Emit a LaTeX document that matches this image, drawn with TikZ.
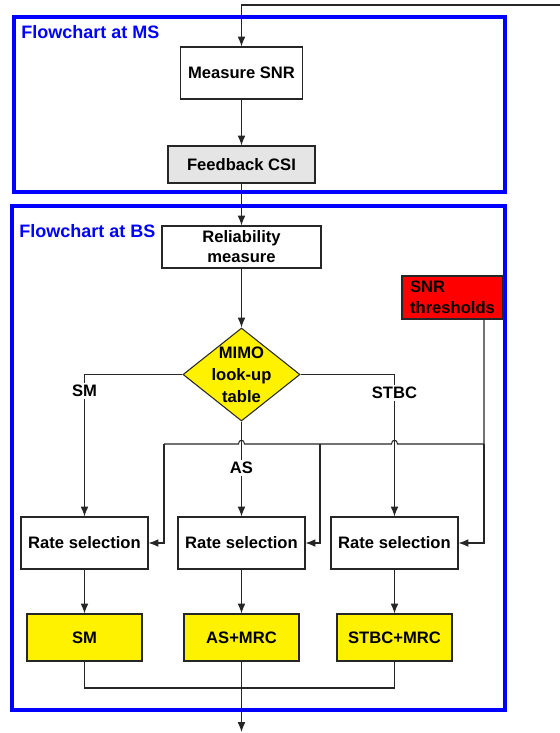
\documentclass[tikz,border=0pt]{standalone}
\usepackage{fontspec}
\setmainfont{Liberation Sans}
\usetikzlibrary{shapes.geometric,arrows.meta}
\tikzset{
  frame/.style={draw=blue,line width=2.5pt},
  title/.style={text=blue,font=\fontsize{12.8}{15}\selectfont\bfseries,inner sep=0pt},
  proc/.style={draw=black!85,line width=0.75pt,fill=white,font=\fontsize{11.8}{14.5}\selectfont\bfseries,
    align=center,inner sep=1pt,minimum width=3.175cm,minimum height=1.3cm},
  result/.style={proc,fill=yellow,minimum width=2.875cm,minimum height=1.175cm},
  decide/.style={diamond,draw=black!85,line width=0.75pt,fill=yellow,minimum width=2.925cm,minimum height=2.325cm,inner sep=0pt},
  lbl/.style={font=\fontsize{11.8}{14.5}\selectfont\bfseries,fill=white,inner sep=1.5pt},
  wire/.style={draw=black!85,line width=0.75pt},
  arr/.style={wire,-{Latex[length=7pt,width=5.5pt]}}
}
\begin{document}
\begin{tikzpicture}[x=0.025cm,y=-0.025cm]
\useasboundingbox (0,0) rectangle (560,733);
% MS side
\draw[frame] (14,17) rectangle (505,192);
\node[title,anchor=base west] (mstitle) at (21,38) {Flowchart at MS};
\node[proc,minimum width=3.05cm] (msnr) at (241.5,73) {Measure SNR};
\node[proc,fill=gray!20,minimum width=3.675cm,minimum height=0.925cm] (fcsi) at (241.5,164.5) {Feedback CSI};
\coordinate (fbin) at (560,5);
\coordinate (fbbend) at (241.5,5);
\draw[arr] (fbin) -- (fbbend) -- (msnr.north);
\draw[arr] (msnr) -- (fcsi);
% BS side
\draw[frame] (12,206) rectangle (505,710);
\node[title,anchor=base west] (bstitle) at (19,237) {Flowchart at BS};
\node[proc,minimum width=3.975cm,minimum height=1.05cm,font=\fontsize{11.8}{14.2}\selectfont\bfseries] (rel) at (241.5,247) {Reliability\\measure};
\node[proc,fill=red,align=left,minimum width=2.525cm,minimum height=1.075cm,font=\fontsize{11.8}{15}\selectfont\bfseries] (snr) at (452.5,297.5) {SNR\\thresholds};
\node[decide] (dec) at (241.5,374.5) {};
\node[lbl,fill=none,align=center,font=\fontsize{11.8}{15.6}\selectfont\bfseries] (dectxt) at (dec.center) {MIMO\\look-up\\table};
\draw[arr] (fcsi) -- (rel);
\draw[arr] (rel) -- (dec);
% rate selection
\node[proc] (rate1) at (84.5,543) {Rate selection};
\node[proc] (rate2) at (241.5,543) {Rate selection};
\node[proc] (rate3) at (394.5,543) {Rate selection};
\node[result] (res1) at (84.5,637.5) {SM};
\node[result] (res2) at (241.5,637.5) {AS+MRC};
\node[result] (res3) at (394.5,637.5) {STBC+MRC};
% branches
\draw[arr] (dec.west) -| (rate1.north);
\draw[arr] (dec.east) -| (rate3.north);
\draw[arr] (dec.south) -- (rate2.north);
\node[lbl] (smlbl) at (84.5,391) {SM};
\node[lbl] (stbclbl) at (394.5,393) {STBC};
\node[lbl] (aslbl) at (241.5,468) {AS};
% thresholds
\coordinate (thr) at (484,319);
\coordinate (thrc) at (484,444);
\coordinate (thrl) at (164,444);
\coordinate (thrm) at (320,444);
\draw[wire] (thr) -- (thrc) -- (397.5,444) .. controls (397.5,439) and (391.5,439) .. (391.5,444)
  -- (244.5,444) .. controls (244.5,439) and (238.5,439) .. (238.5,444) -- (thrl);
\draw[arr] (thrl) |- (rate1.east);
\draw[arr] (thrm) |- (rate2.east);
\draw[arr] (thrc) |- (rate3.east);
% outputs
\draw[arr] (rate1) -- (res1);
\draw[arr] (rate2) -- (res2);
\draw[arr] (rate3) -- (res3);
\coordinate (outj) at (241.5,688);
\coordinate (out) at (241.5,732);
\draw[wire] (res1.south) |- (outj) -| (res3.south);
\draw[arr] (res2.south) -- (out);
\end{tikzpicture}
\end{document}
